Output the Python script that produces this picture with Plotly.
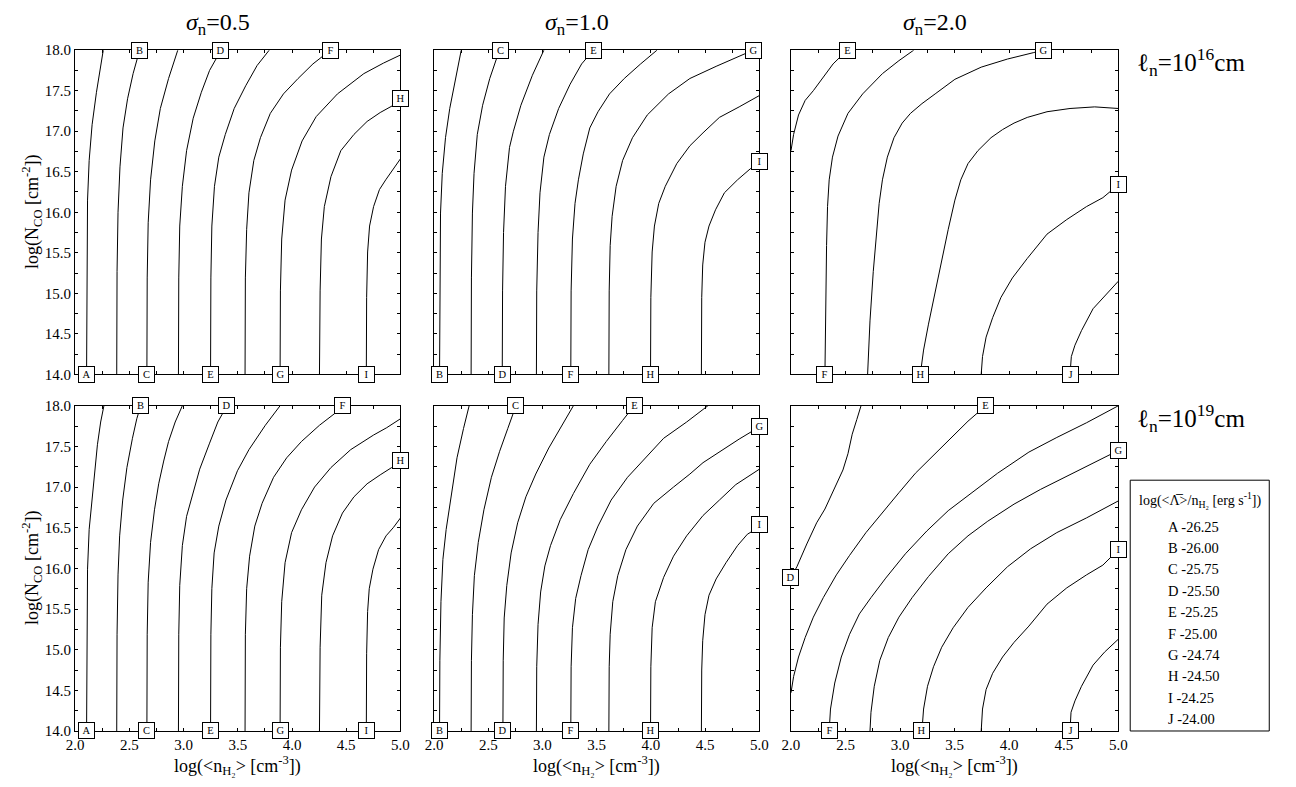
import plotly.graph_objects as go

FONT = "Liberation Serif, Times New Roman, serif"
W, H = 1296, 787

# ---- axis ranges / ticks -----------------------------------------------
X_RANGE = [2.0, 5.0]
Y_RANGE = [14.0, 18.0]
MAJOR_STEP = 0.5
MINOR_STEP = 0.25

# ---- contour levels: log(<Lambda>/n_H2 [erg s^-1]) ------------------------
LEVELS = ["A", "B", "C", "D", "E", "F", "G", "H", "I", "J"]
LEVEL_VALUES = [-26.25, -26.00, -25.75, -25.50, -25.25, -25.00, -24.74, -24.50, -24.25, -24.00]

SIGMAS = ["0.5", "1.0", "2.0"]
LENGTH_EXPONENTS = ["16", "19"]

# ---- contour paths (log n_H2, log N_CO) per panel --------------------------
# sigma_n = 0.5, l_n = 1e16 cm
S05_L16 = {
    "A": ([2.106, 2.109, 2.115, 2.130, 2.157, 2.197, 2.233, 2.260],
          [14.0, 15.27, 16.15, 16.64, 17.08, 17.48, 17.81, 18.0]),
    "B": ([2.384, 2.387, 2.396, 2.414, 2.442, 2.484, 2.535, 2.595],
          [14.0, 15.27, 16.00, 16.56, 17.04, 17.40, 17.71, 18.0]),
    "C": ([2.662, 2.665, 2.674, 2.696, 2.735, 2.786, 2.862, 2.947],
          [14.0, 15.19, 15.87, 16.40, 16.88, 17.28, 17.65, 18.0]),
    "D": ([2.953, 2.956, 2.965, 2.989, 3.028, 3.089, 3.164, 3.240, 3.345],
          [14.0, 15.19, 15.83, 16.32, 16.76, 17.16, 17.48, 17.75, 18.0]),
    "E": ([3.249, 3.252, 3.261, 3.285, 3.325, 3.385, 3.467, 3.573, 3.678, 3.790],
          [14.0, 15.19, 15.83, 16.32, 16.68, 16.96, 17.28, 17.56, 17.81, 18.0]),
    "F": ([3.567, 3.570, 3.582, 3.603, 3.648, 3.709, 3.800, 3.921, 4.056, 4.193, 4.355],
          [14.0, 15.19, 15.79, 16.24, 16.64, 16.92, 17.22, 17.46, 17.65, 17.83, 18.0]),
    "G": ([3.890, 3.893, 3.905, 3.936, 3.996, 4.093, 4.223, 4.419, 4.662, 4.843, 5.0],
          [14.0, 15.03, 15.67, 16.15, 16.52, 16.88, 17.18, 17.46, 17.71, 17.84, 17.94]),
    "H": ([4.253, 4.259, 4.271, 4.298, 4.359, 4.450, 4.571, 4.692, 4.813, 4.934, 5.0],
          [14.0, 15.03, 15.67, 16.07, 16.44, 16.76, 16.96, 17.12, 17.23, 17.32, 17.40]),
    "I": ([4.685, 4.688, 4.697, 4.715, 4.752, 4.806, 4.864, 4.933, 5.0],
          [14.0, 14.95, 15.51, 15.83, 16.07, 16.28, 16.40, 16.53, 16.66]),
}
S05_L16_LABEL = {"A": "start", "B": "end", "C": "start", "D": "end", "E": "start",
                 "F": "end", "G": "start", "H": "end", "I": "start"}

# sigma_n = 1.0, l_n = 1e16 cm
S10_L16 = {
    "B": ([2.051, 2.054, 2.060, 2.076, 2.106, 2.145, 2.197, 2.251],
          [14.0, 15.19, 15.99, 16.48, 16.92, 17.28, 17.65, 18.0]),
    "C": ([2.342, 2.345, 2.354, 2.369, 2.399, 2.448, 2.514, 2.575, 2.615],
          [14.0, 15.19, 15.99, 16.48, 16.96, 17.32, 17.65, 17.89, 18.0]),
    "D": ([2.629, 2.632, 2.641, 2.659, 2.696, 2.732, 2.801, 2.907, 3.013],
          [14.0, 15.03, 15.75, 16.32, 16.80, 17.00, 17.32, 17.69, 18.0]),
    "E": ([2.944, 2.947, 2.959, 2.977, 3.013, 3.064, 3.149, 3.255, 3.361, 3.470],
          [14.0, 15.03, 15.75, 16.24, 16.68, 16.96, 17.28, 17.58, 17.83, 18.0]),
    "F": ([3.261, 3.264, 3.276, 3.300, 3.331, 3.376, 3.436, 3.512, 3.618, 3.754, 3.905, 4.056],
          [14.0, 15.03, 15.67, 16.11, 16.40, 16.72, 17.04, 17.24, 17.46, 17.65, 17.83, 18.0]),
    "G": ([3.612, 3.615, 3.624, 3.642, 3.679, 3.739, 3.830, 3.966, 4.162, 4.359, 4.601, 4.813, 4.943],
          [14.0, 15.03, 15.59, 15.95, 16.32, 16.64, 16.92, 17.20, 17.46, 17.65, 17.80, 17.93, 18.0]),
    "H": ([3.996, 3.999, 4.011, 4.032, 4.072, 4.132, 4.238, 4.359, 4.480, 4.631, 4.813, 5.0],
          [14.0, 14.95, 15.51, 15.83, 16.11, 16.32, 16.60, 16.82, 16.98, 17.17, 17.30, 17.44]),
    "I": ([4.465, 4.468, 4.477, 4.498, 4.535, 4.595, 4.677, 4.798, 4.919, 5.0],
          [14.0, 14.95, 15.35, 15.63, 15.83, 16.03, 16.24, 16.40, 16.54, 16.62]),
}
S10_L16_LABEL = {"B": "start", "C": "end", "D": "start", "E": "end", "F": "start",
                 "G": "end", "H": "start", "I": "end"}

# sigma_n = 2.0, l_n = 1e16 cm
S20_L16 = {
    "E": ([2.0, 2.024, 2.069, 2.130, 2.205, 2.296, 2.386, 2.515],
          [16.76, 16.96, 17.20, 17.38, 17.50, 17.66, 17.83, 18.0]),
    "F": ([2.311, 2.317, 2.326, 2.335, 2.350, 2.380, 2.431, 2.522, 2.657, 2.838, 2.989, 3.125],
          [14.0, 14.87, 15.59, 16.07, 16.40, 16.68, 16.94, 17.22, 17.46, 17.71, 17.87, 18.0]),
    "G": ([2.702, 2.724, 2.754, 2.784, 2.808, 2.838, 2.883, 2.944, 3.019, 3.095, 3.200, 3.321,
           3.502, 3.743, 3.984, 4.225, 4.310],
          [14.0, 14.66, 15.27, 15.75, 16.11, 16.40, 16.68, 16.92, 17.10, 17.22, 17.34, 17.46,
           17.64, 17.79, 17.89, 17.97, 18.0]),
    "H": ([3.185, 3.215, 3.260, 3.321, 3.381, 3.441, 3.502, 3.556, 3.622, 3.713, 3.833, 3.939,
           4.044, 4.165, 4.346, 4.557, 4.783, 5.0],
          [14.0, 14.30, 14.62, 15.03, 15.43, 15.79, 16.15, 16.40, 16.60, 16.76, 16.92, 17.02,
           17.10, 17.17, 17.24, 17.28, 17.30, 17.28]),
    "I": ([3.743, 3.755, 3.788, 3.848, 3.924, 4.029, 4.165, 4.346, 4.527, 4.708, 4.858, 5.0],
          [14.0, 14.22, 14.46, 14.70, 14.95, 15.19, 15.43, 15.73, 15.91, 16.07, 16.18, 16.34]),
    "J": ([4.557, 4.569, 4.602, 4.662, 4.768, 4.873, 5.0],
          [14.0, 14.22, 14.36, 14.54, 14.81, 14.97, 15.15]),
}
S20_L16_LABEL = {"E": "end", "F": "start", "G": "end", "H": "start", "I": "end", "J": "start"}

# sigma_n = 0.5, l_n = 1e19 cm
S05_L19 = {
    "A": ([2.106, 2.109, 2.115, 2.130, 2.151, 2.175, 2.206, 2.236, 2.266],
          [14.0, 15.27, 15.99, 16.48, 16.76, 17.16, 17.52, 17.80, 18.0]),
    "B": ([2.384, 2.387, 2.396, 2.411, 2.439, 2.478, 2.529, 2.569, 2.605],
          [14.0, 15.19, 15.92, 16.40, 16.84, 17.24, 17.60, 17.84, 18.0]),
    "C": ([2.662, 2.665, 2.674, 2.696, 2.732, 2.771, 2.817, 2.862, 2.923, 2.989],
          [14.0, 15.19, 15.83, 16.32, 16.72, 17.04, 17.32, 17.56, 17.80, 18.0]),
    "D": ([2.953, 2.956, 2.965, 2.989, 3.028, 3.083, 3.149, 3.240, 3.316, 3.400],
          [14.0, 15.19, 15.79, 16.28, 16.64, 16.92, 17.22, 17.54, 17.80, 18.0]),
    "E": ([3.249, 3.252, 3.261, 3.282, 3.325, 3.391, 3.497, 3.603, 3.754, 3.890],
          [14.0, 15.19, 15.75, 16.19, 16.52, 16.84, 17.20, 17.46, 17.76, 18.0]),
    "F": ([3.567, 3.570, 3.582, 3.609, 3.657, 3.724, 3.830, 3.951, 4.087, 4.253, 4.389, 4.470],
          [14.0, 15.19, 15.75, 16.15, 16.52, 16.80, 17.12, 17.36, 17.56, 17.76, 17.90, 18.0]),
    "G": ([3.890, 3.893, 3.905, 3.936, 3.996, 4.087, 4.208, 4.359, 4.541, 4.752, 4.873, 5.0],
          [14.0, 15.03, 15.59, 16.07, 16.44, 16.72, 17.00, 17.24, 17.46, 17.64, 17.73, 17.84]),
    "H": ([4.253, 4.259, 4.274, 4.313, 4.374, 4.465, 4.571, 4.692, 4.813, 4.919, 5.0],
          [14.0, 15.03, 15.67, 16.07, 16.40, 16.68, 16.88, 17.04, 17.15, 17.24, 17.33]),
    "I": ([4.685, 4.688, 4.697, 4.712, 4.746, 4.798, 4.867, 4.933, 5.0],
          [14.0, 14.95, 15.47, 15.75, 15.99, 16.23, 16.40, 16.50, 16.62]),
}
S05_L19_LABEL = {"A": "start", "B": "end", "C": "start", "D": "end", "E": "start",
                 "F": "end", "G": "start", "H": "end", "I": "start"}

# sigma_n = 1.0, l_n = 1e19 cm
S10_L19 = {
    "B": ([2.051, 2.054, 2.064, 2.082, 2.112, 2.151, 2.212, 2.272, 2.324],
          [14.0, 14.87, 15.59, 16.11, 16.48, 16.84, 17.36, 17.72, 18.0]),
    "C": ([2.342, 2.345, 2.354, 2.372, 2.408, 2.460, 2.529, 2.605, 2.680, 2.755],
          [14.0, 14.87, 15.43, 15.91, 16.32, 16.72, 17.12, 17.44, 17.72, 18.0]),
    "D": ([2.635, 2.638, 2.647, 2.671, 2.711, 2.771, 2.847, 2.938, 3.058, 3.179, 3.285],
          [14.0, 14.87, 15.39, 15.79, 16.19, 16.56, 16.88, 17.16, 17.48, 17.76, 18.0]),
    "E": ([2.944, 2.947, 2.959, 2.983, 3.022, 3.074, 3.164, 3.285, 3.436, 3.588, 3.739, 3.845],
          [14.0, 14.79, 15.31, 15.71, 16.03, 16.28, 16.60, 16.92, 17.28, 17.56, 17.82, 18.0]),
    "F": ([3.261, 3.264, 3.276, 3.306, 3.355, 3.421, 3.512, 3.633, 3.784, 3.951, 4.117, 4.329, 4.525],
          [14.0, 14.79, 15.27, 15.63, 15.91, 16.23, 16.52, 16.84, 17.12, 17.36, 17.60, 17.80, 18.0]),
    "G": ([3.612, 3.615, 3.624, 3.648, 3.694, 3.769, 3.875, 4.026, 4.208, 4.359, 4.480, 4.662, 4.813, 5.0],
          [14.0, 14.79, 15.19, 15.59, 15.91, 16.23, 16.52, 16.80, 17.00, 17.16, 17.30, 17.46, 17.59, 17.74]),
    "H": ([3.996, 3.999, 4.011, 4.041, 4.117, 4.208, 4.329, 4.480, 4.631, 4.782, 5.0],
          [14.0, 14.79, 15.27, 15.59, 15.89, 16.15, 16.40, 16.65, 16.84, 17.03, 17.22]),
    "I": ([4.465, 4.468, 4.477, 4.498, 4.535, 4.601, 4.692, 4.798, 4.889, 4.964, 5.0],
          [14.0, 14.75, 15.11, 15.43, 15.67, 15.87, 16.07, 16.28, 16.42, 16.48, 16.54]),
}
S10_L19_LABEL = {"B": "start", "C": "end", "D": "start", "E": "end", "F": "start",
                 "G": "end", "H": "start", "I": "end"}

# sigma_n = 2.0, l_n = 1e19 cm
S20_L19 = {
    "D": ([2.0, 2.054, 2.145, 2.235, 2.311, 2.386, 2.476, 2.522, 2.561, 2.603, 2.642],
          [15.89, 16.02, 16.30, 16.56, 16.73, 16.95, 17.21, 17.41, 17.65, 17.83, 18.0]),
    "E": ([2.0, 2.024, 2.069, 2.130, 2.205, 2.296, 2.416, 2.537, 2.687, 2.838, 2.989, 3.140,
           3.230, 3.351, 3.502, 3.622, 3.785],
          [14.47, 14.67, 14.91, 15.15, 15.40, 15.64, 15.92, 16.16, 16.44, 16.69, 16.93, 17.17,
           17.29, 17.45, 17.65, 17.81, 18.0]),
    "F": ([2.350, 2.362, 2.401, 2.461, 2.537, 2.627, 2.733, 2.868, 3.049, 3.245, 3.441, 3.652,
           3.893, 4.180, 4.436, 4.707, 5.0],
          [14.0, 14.27, 14.59, 14.91, 15.19, 15.44, 15.64, 15.88, 16.18, 16.46, 16.71, 16.93,
           17.17, 17.43, 17.61, 17.79, 18.0]),
    "G": ([2.724, 2.733, 2.763, 2.814, 2.892, 2.989, 3.110, 3.260, 3.441, 3.622, 3.803, 4.044,
           4.285, 4.527, 4.768, 5.0],
          [14.0, 14.23, 14.55, 14.87, 15.15, 15.40, 15.64, 15.90, 16.18, 16.40, 16.58, 16.79,
           16.97, 17.13, 17.29, 17.45]),
    "H": ([3.200, 3.215, 3.251, 3.306, 3.381, 3.486, 3.622, 3.788, 3.984, 4.195, 4.436, 4.707, 5.0],
          [14.0, 14.27, 14.55, 14.79, 15.03, 15.27, 15.52, 15.76, 16.02, 16.24, 16.44, 16.62, 16.83]),
    "I": ([3.743, 3.755, 3.788, 3.848, 3.939, 4.044, 4.180, 4.346, 4.527, 4.708, 4.858, 5.0],
          [14.0, 14.27, 14.51, 14.71, 14.91, 15.09, 15.29, 15.56, 15.76, 15.92, 16.04, 16.23]),
    "J": ([4.557, 4.566, 4.602, 4.662, 4.768, 4.873, 5.0],
          [14.0, 14.23, 14.37, 14.55, 14.81, 14.97, 15.13]),
}
S20_L19_LABEL = {"D": "start", "E": "end", "F": "start", "G": "end", "H": "start",
                 "I": "end", "J": "start"}

PANELS = [(S05_L16, S05_L16_LABEL), (S10_L16, S10_L16_LABEL), (S20_L16, S20_L16_LABEL),
          (S05_L19, S05_L19_LABEL), (S10_L19, S10_L19_LABEL), (S20_L19, S20_L19_LABEL)]


# ---- layout helpers (pixel -> paper fraction) -------------------------------
def px(x):
    return x / W


def py(y):
    return 1 - y / H


COL_PX = [(67, 397), (431, 761), (793, 1125)]
ROW_PX = [(43, 374), (406, 738)]

fig = go.Figure()

axis_common = dict(
    showline=True, linecolor="black", linewidth=1, mirror="ticks",
    ticks="inside", ticklen=3, tickwidth=1, tickcolor="black",
    minor=dict(ticks="inside", ticklen=3, tickwidth=1, tickcolor="black", dtick=MINOR_STEP),
    showgrid=False, zeroline=False, tickmode="linear", dtick=MAJOR_STEP, tickformat=".1f",
    tickfont=dict(family=FONT, size=15, color="black"),
)


def paper_text(x, y, text, size, **kw):
    opts = dict(xanchor="center", yanchor="middle")
    opts.update(kw)
    fig.add_annotation(x=px(x), y=py(y), xref="paper", yref="paper", showarrow=False,
                       text=text, font=dict(family=FONT, size=size, color="black"), **opts)


for i, (curves, label_at) in enumerate(PANELS):
    row, col = divmod(i, 3)
    sfx = "" if i == 0 else str(i + 1)
    xa, ya = "x" + sfx, "y" + sfx

    fig.update_layout(**{
        "xaxis" + sfx: dict(
            axis_common, domain=[px(COL_PX[col][0]), px(COL_PX[col][1])],
            range=X_RANGE, anchor=ya, tick0=X_RANGE[0], showticklabels=(row == 1)),
        "yaxis" + sfx: dict(
            axis_common, domain=[py(ROW_PX[row][1]), py(ROW_PX[row][0])],
            range=Y_RANGE, anchor=xa, tick0=Y_RANGE[0], showticklabels=(col == 0)),
    })

    for letter, (xs, ys) in curves.items():
        fig.add_trace(go.Scatter(
            x=xs, y=ys, mode="lines", xaxis=xa, yaxis=ya,
            line=dict(color="black", width=1), showlegend=False, hoverinfo="skip"))
        k = 0 if label_at[letter] == "start" else -1
        fig.add_annotation(
            x=xs[k], y=ys[k], xref=xa, yref=ya, text=letter, showarrow=False,
            xanchor="center", yanchor="middle",
            font=dict(family=FONT, size=10.5, color="black"),
            bgcolor="white", bordercolor="black", borderwidth=1, borderpad=1,
            width=13, height=13)

# column titles
for col, s in enumerate(SIGMAS):
    cx = (COL_PX[col][0] + COL_PX[col][1]) / 2 - 20
    paper_text(cx, 16, f"<i>σ</i><sub>n</sub>={s}", 24)

# row labels
for row, e in enumerate(LENGTH_EXPONENTS):
    paper_text(1199, [55, 419][row], f"ℓ<sub>n</sub>=10<sup>{e}</sup>cm", 25)

# axis titles
for row in range(2):
    cy = (ROW_PX[row][0] + ROW_PX[row][1]) / 2
    paper_text(23, cy, "log(N<sub>CO</sub> [cm<sup>-2</sup>])", 18, textangle=-90)
for col in range(3):
    cx = (COL_PX[col][0] + COL_PX[col][1]) / 2
    paper_text(cx, 773, "log(&lt;n<sub>H₂</sub>&gt; [cm<sup>-3</sup>])", 18)

# level key
fig.add_shape(type="rect", xref="paper", yref="paper",
              x0=px(1137), x1=px(1278), y0=py(738), y1=py(482),
              line=dict(color="black", width=1), fillcolor="white")
paper_text(1207.5, 502, "log(&lt;Λ\u0305&gt;/n<sub>H₂</sub> [erg s<sup>-1</sup>])", 14)
for j, (letter, val) in enumerate(zip(LEVELS, LEVEL_VALUES)):
    paper_text(1173, 529.3 + 21.85 * j, f"{letter} {val:.2f}", 14.5, xanchor="left")

fig.update_layout(
    width=W, height=H, autosize=False,
    margin=dict(l=0, r=0, t=0, b=0),
    paper_bgcolor="white", plot_bgcolor="white",
    showlegend=False,
)

fig.write_html("out.html", config={"displayModeBar": False})
